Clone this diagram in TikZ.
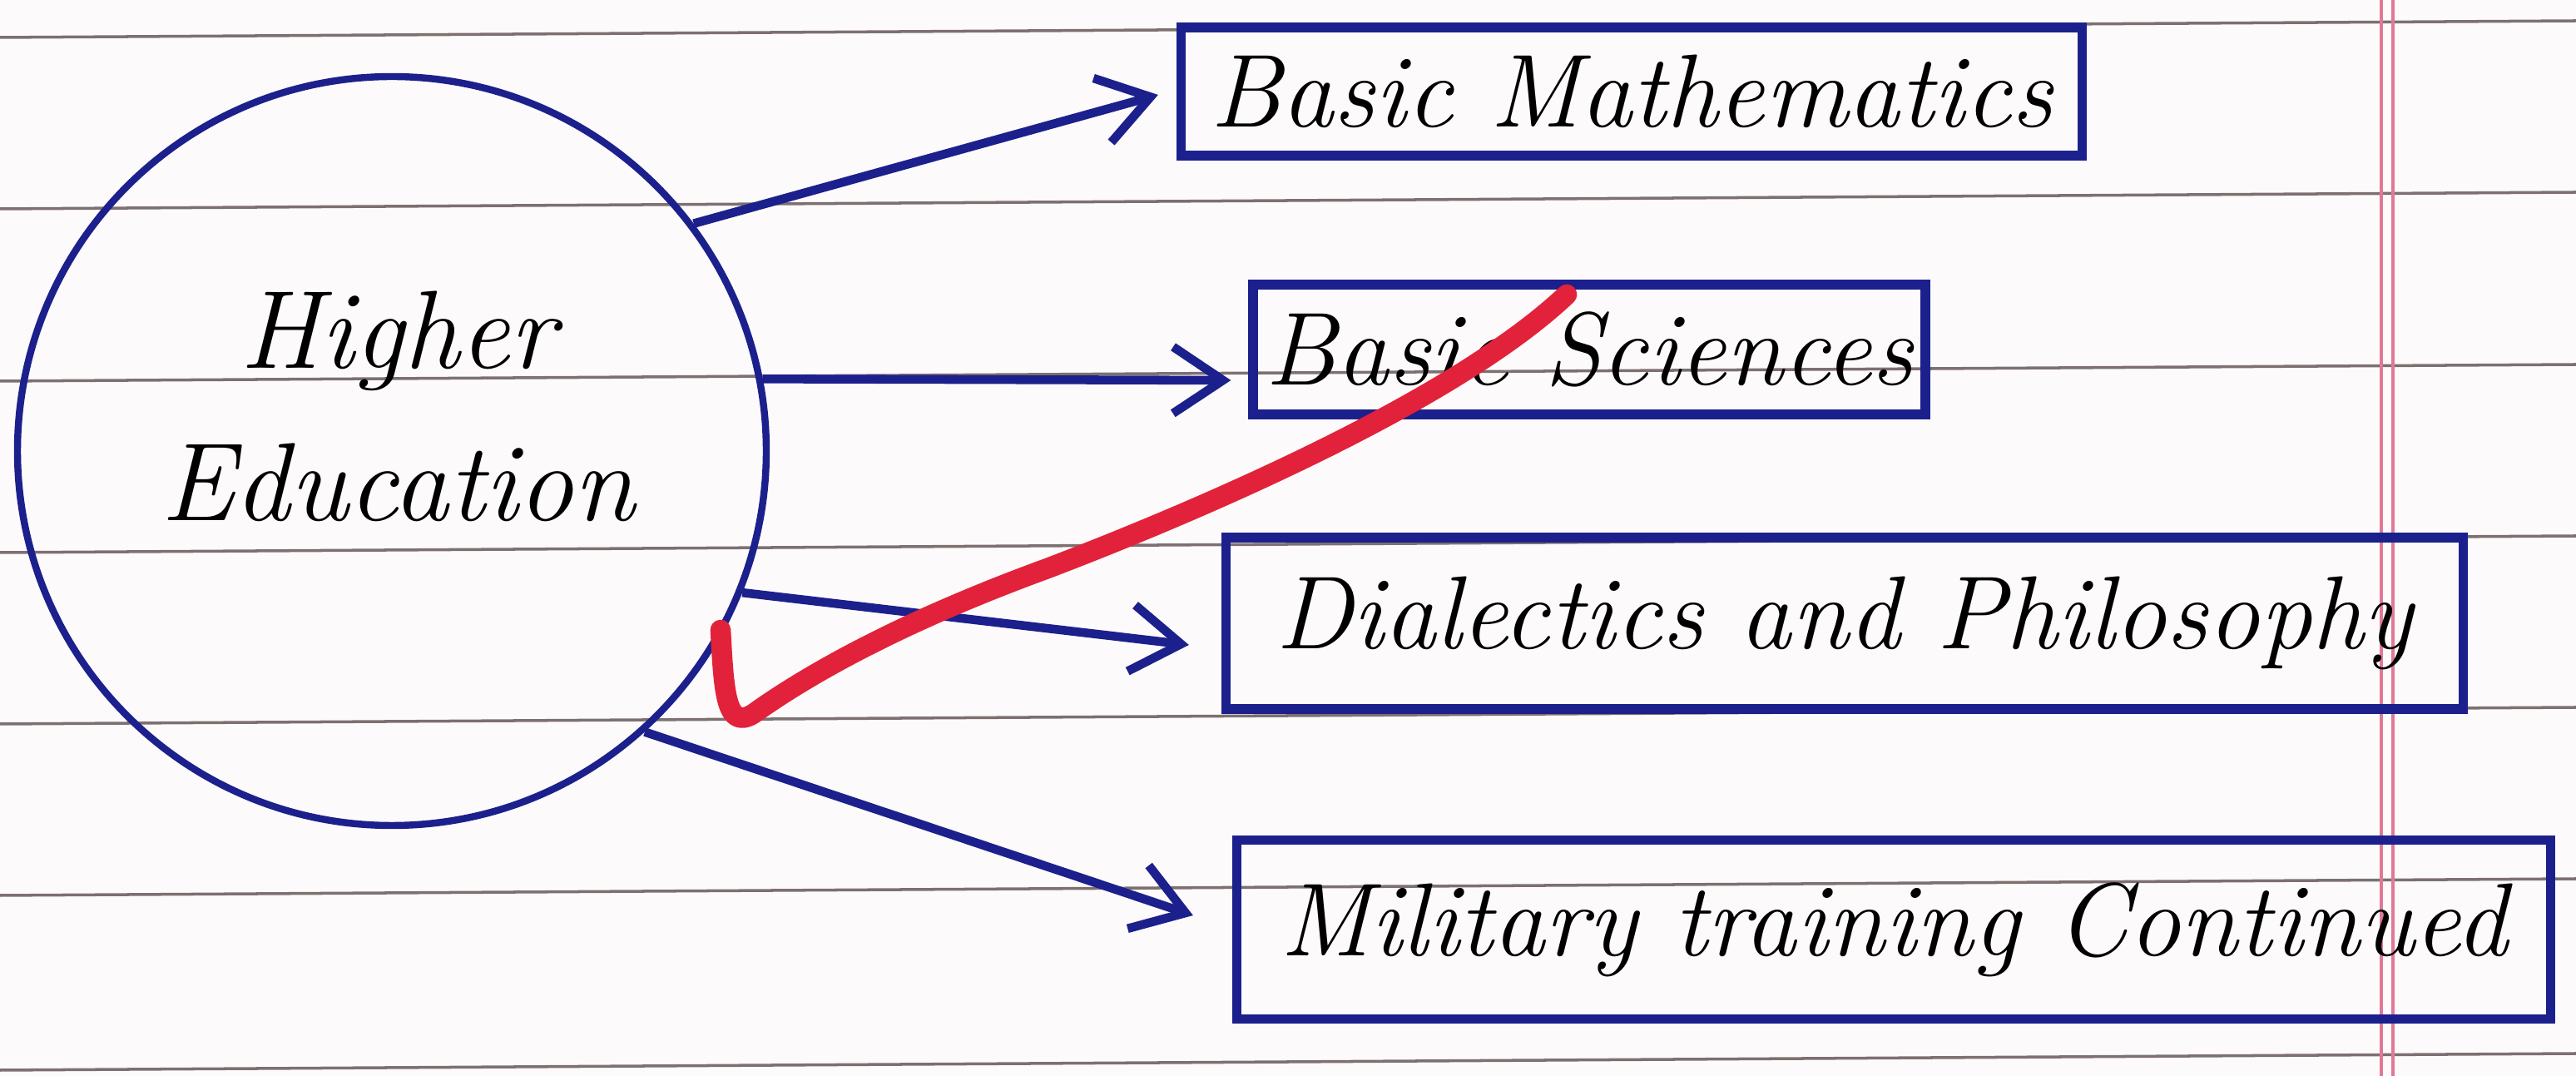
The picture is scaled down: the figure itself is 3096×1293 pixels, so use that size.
\documentclass[tikz,border=0pt]{standalone}
\usepackage{fontspec}
\usetikzlibrary{arrows.meta}
\definecolor{ink}{RGB}{28,32,140}
\definecolor{tick}{RGB}{226,34,58}
\definecolor{rule}{RGB}{125,112,112}
\definecolor{margin}{RGB}{225,120,150}
\definecolor{paper}{RGB}{252,250,250}
\begin{document}
\begin{tikzpicture}[x=0.1mm,y=-0.1mm,
  topic/.style={draw=ink,line width=3.2pt,inner sep=0pt,font=\fontsize{35.5}{40}\selectfont\itshape},
  arr/.style={draw=ink,line width=3pt,-{Straight Barb[length=6mm,width=8mm]}}]
\fill[paper] (0,0) rectangle (3096,1293);
\useasboundingbox (0,0) rectangle (3096,1293);
\foreach \y in {45,251,458,664,870,1076,1286}
  \draw[rule,line width=1pt] (0,\y) -- (3096,\y-20);
\draw[margin,line width=0.9pt] (2862,0) -- (2862,1293);
\draw[margin,line width=0.9pt] (2876,0) -- (2876,1293);
\node[draw=ink,line width=2.4pt,circle,minimum size=9cm] (he) at (471,542) {};
\node[align=center,font=\fontsize{38}{52}\selectfont\itshape] (hetext) at (478,488) {Higher\\Education};
\node[topic,minimum width=10.83cm,minimum height=1.54cm] (bm) at (1961,110) {Basic Mathematics};
\node[topic,minimum width=8.08cm,minimum height=1.56cm] (bs) at (1910,420) {Basic Sciences};
\node[topic,minimum width=14.87cm,minimum height=2.06cm] (dp) at (2217,749) {Dialectics and Philosophy};
\node[topic,minimum width=15.79cm,minimum height=2.15cm] (mt) at (2276,1117) {Military training Continued};
\draw[arr] (he.37) -- ([xshift=-2.2mm,yshift=-0.4mm]bm.west);
\draw[arr] (he.11) -- ([xshift=-2.1mm,yshift=-3.7mm]bs.west);
\draw[arr] (he.-22) -- ([xshift=-3.9mm,yshift=-2.6mm]dp.west);
\draw[arr] (he.-48) -- ([xshift=-4.7mm,yshift=1.7mm]mt.west);
\draw[tick,line width=7pt,line cap=round,line join=round]
(866,757) .. controls (870,830) and (872,878) .. (905,858)
.. controls (1000,790) and (1130,730) .. (1259,683)
.. controls (1450,610) and (1750,480) .. (1883,354);
\end{tikzpicture}
\end{document}
